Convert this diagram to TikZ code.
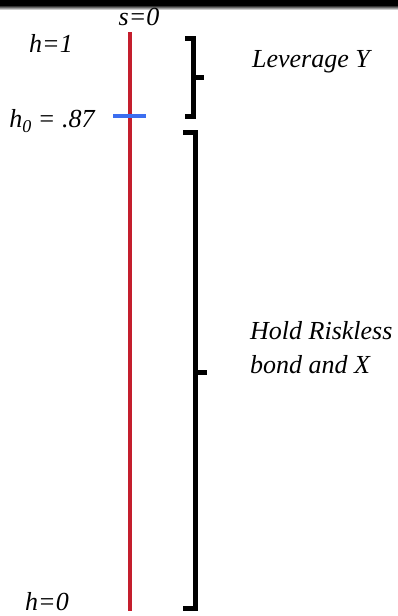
\documentclass[tikz,border=0pt]{standalone}
\usepackage{fontspec}
\setmainfont{Liberation Serif}
\begin{document}
\begin{tikzpicture}[x=1pt,y=-1pt,
  lbl/.style={font=\fontsize{26}{34}\selectfont\itshape, inner sep=0pt, anchor=base},
  brk/.style={line width=5pt, line join=miter, black},
  axisline/.style={line width=4pt, draw=redline},
  tick/.style={line width=4.5pt, draw=blueline}]
\definecolor{redline}{RGB}{196,30,45}
\definecolor{blueline}{RGB}{60,110,240}
\useasboundingbox (0,0) rectangle (398,616);
\fill[white] (0,0) rectangle (398,616);
\fill[black] (0,0) rectangle (398,5);
\shade[top color=black, bottom color=white] (0,5) rectangle (398,10);
% axis
\coordinate (top) at (129.5,32);
\coordinate (bot) at (129.5,611);
\draw[axisline] (top) -- (bot);
\coordinate (tl) at (113,116);
\coordinate (tr) at (146,116);
\draw[tick] (tl) -- (tr);
% labels
\node[lbl] (s0) at (139,25) {s=0};
\node[lbl] (h1) at (51,52) {h=1};
\node[lbl] (h0) at (52,127) {h\raisebox{-5pt}{\fontsize{18}{18}\selectfont 0} = .87};
\node[lbl] (hz) at (47,610) {h=0};
\node[lbl] (lev) at (311,67) {Leverage Y};
\node[lbl, anchor=base west, align=left] (hold) at (250,373) {Hold Riskless\\bond and X};
% brackets
\draw[brk] (185,38) -- (193,38) -- (193,116) -- (185,116);
\coordinate (bu) at (193,77);
\coordinate (bue) at (204,77);
\draw[brk] (bu) -- (bue);
\draw[brk] (183,132) -- (195,132) -- (195,608) -- (183,608);
\coordinate (bl) at (195,372);
\coordinate (ble) at (207,372);
\draw[brk] (bl) -- (ble);
\end{tikzpicture}
\end{document}
